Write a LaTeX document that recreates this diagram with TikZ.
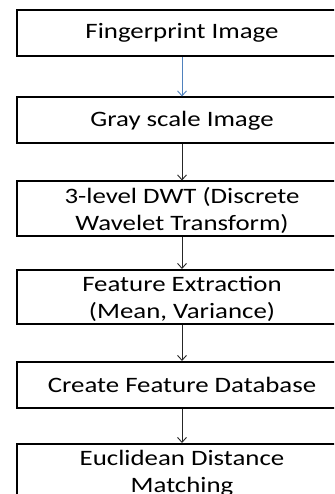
\documentclass[tikz,border=0pt]{standalone}
\usepackage{fontspec}
\setmainfont{Carlito}[FakeStretch=1.22]
\usetikzlibrary{arrows.meta}
\definecolor{arrowblue}{RGB}{79,129,189}
\newcommand{\twolines}[2]{\raisebox{-3pt}[\height][\depth]{\begin{tabular}{@{}c@{}}#1\\#2\end{tabular}}}
\begin{document}
\begin{tikzpicture}[x=1pt,y=-1pt,
  box/.style={draw=black, line width=2pt, minimum width=330pt, minimum height=46pt, inner sep=0pt, align=center, font=\fontsize{22}{27}\selectfont, text=black},
  conn/.style={-{Straight Barb[length=5pt,width=9pt]}, line width=0.9pt, draw=black!85}]
\useasboundingbox (0,0) rectangle (334,494);
\begin{scope}
\clip (0,0) rectangle (334,494);
\node[box] (n1) at (182,33) {Fingerprint Image};
\node[box] (n2) at (182,120.5) {Gray scale Image};
\node[box] (n3) at (182,208.5) {\twolines{3-level DWT (Discrete}{Wavelet Transform)}};
\node[box] (n4) at (182,297) {\twolines{Feature Extraction}{(Mean, Variance)}};
\node[box] (n5) at (182,385) {Create Feature Database};
\node[box] (n6) at (182,471) {\twolines{Euclidean Distance}{Matching}};
\draw[conn, draw=arrowblue] (n1.south) -- (n2.north);
\draw[conn] (n2.south) -- (n3.north);
\draw[conn] (n3.south) -- (n4.north);
\draw[conn] (n4.south) -- (n5.north);
\draw[conn] (n5.south) -- (n6.north);
\end{scope}
\end{tikzpicture}
\end{document}
